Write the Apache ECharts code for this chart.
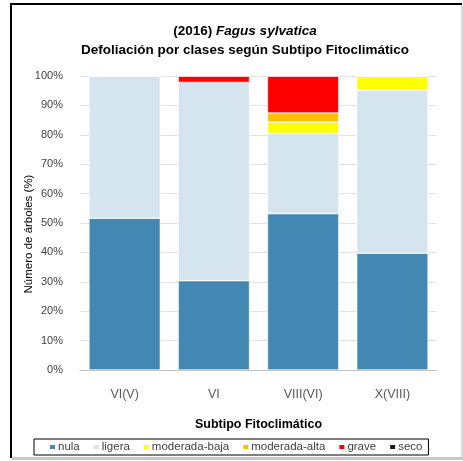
<!DOCTYPE html>
<html>
<head>
<meta charset="utf-8">
<script src="https://cdn.jsdelivr.net/npm/echarts@6/dist/echarts.min.js"></script>
<style>
html,body{margin:0;padding:0;background:#fff;}
#chart{width:463px;height:461px;}
</style>
</head>
<body>
<div id="chart"></div>
<script>
var categories = ['VI(V)', 'VI', 'VIII(VI)', 'X(VIII)'];
var seriesNames = ['nula', 'ligera', 'moderada-baja', 'moderada-alta', 'grave', 'seco'];
var nula = [51.6, 30.4, 53.2, 39.7];
var ligera = [48.4, 67.4, 27.3, 55.5];
var moderadaBaja = [0, 0, 3.8, 4.8];
var moderadaAlta = [0, 0, 3.1, 0];
var grave = [0, 2.2, 12.6, 0];
var seco = [0, 0, 0, 0];
var yTickLabels = ['0%', '10%', '20%', '30%', '40%', '50%', '60%', '70%', '80%', '90%', '100%'];

var colors = ['#4387b3', '#d5e5ef', '#ffff00', '#ffc000', '#ff0000', '#1a1a1a'];
var values = [nula, ligera, moderadaBaja, moderadaAlta, grave, seco];
var FONT = '"Liberation Sans", Arial, sans-serif';

var series = seriesNames.map(function (n, i) {
  return {
    name: n,
    type: 'bar',
    stack: 'total',
    barCategoryGap: '20%',
    data: values[i],
    itemStyle: { color: colors[i], borderColor: '#ffffff', borderWidth: 0.6 },
    emphasis: { disabled: true }
  };
});

var chart = echarts.init(document.getElementById('chart'), null, { renderer: 'canvas' });
chart.setOption({
  animation: false,
  backgroundColor: '#ffffff',
  color: colors,
  title: {
    text: '(2016) {i|Fagus sylvatica}\nDefoliación por clases según Subtipo Fitoclimático',
    left: 240,
    textAlign: 'center',
    top: 17,
    textStyle: {
      fontFamily: FONT,
      fontSize: 13.5,
      fontWeight: 'bold',
      color: '#000',
      lineHeight: 19,
      rich: {
        i: { fontFamily: FONT, fontSize: 13.5, fontWeight: 'bold', fontStyle: 'italic', color: '#000', lineHeight: 19 }
      }
    }
  },
  grid: { left: 80, right: 26, top: 76, bottom: 91, containLabel: false },
  xAxis: {
    type: 'category',
    data: categories,
    name: 'Subtipo Fitoclimático',
    nameLocation: 'middle',
    nameGap: 48,
    nameMoveOverlap: false,
    nameTextStyle: { fontFamily: FONT, fontSize: 12.5, fontWeight: 'bold', color: '#000' },
    axisLine: { lineStyle: { color: '#bfbfbf' } },
    axisTick: { show: false },
    axisLabel: { fontFamily: FONT, fontSize: 12.5, color: '#595959', margin: 18 }
  },
  yAxis: {
    type: 'value',
    min: 0,
    max: 100,
    interval: 10,
    name: 'Número de árboles (%)',
    nameLocation: 'middle',
    nameGap: 45,
    nameMoveOverlap: false,
    nameTextStyle: { fontFamily: FONT, fontSize: 11.5, color: '#000', padding: [0, 22, 0, 0] },
    axisLine: { show: false },
    axisTick: { show: false },
    splitLine: { lineStyle: { color: '#e3e3e3' } },
    axisLabel: {
      fontFamily: FONT, fontSize: 11, color: '#404040', margin: 17,
      formatter: function (v) { return yTickLabels[Math.round(v / 10)]; }
    }
  },
  legend: {
    data: seriesNames,
    left: 34,
    top: 439,
    padding: [2, 6, 2, 14],
    itemGap: 12,
    itemWidth: 7,
    itemHeight: 6,
    icon: 'rect',
    borderColor: '#000',
    borderWidth: 1,
    textStyle: { fontFamily: FONT, fontSize: 11.5, color: '#404040', padding: [0, 0, 0, -3] }
  },
  graphic: [
    { type: 'rect', shape: { x: 10, y: 3, width: 452, height: 2 }, style: { fill: '#000' }, silent: true },
    { type: 'rect', shape: { x: 10, y: 3, width: 2, height: 455 }, style: { fill: '#000' }, silent: true },
    { type: 'rect', shape: { x: 12, y: 457, width: 451, height: 3 }, style: { fill: '#c8c8c8' }, silent: true },
    { type: 'rect', shape: { x: 461, y: 5, width: 2, height: 452 }, style: { fill: '#d9d9d9' }, silent: true }
  ],
  series: series
});
</script>
</body>
</html>
